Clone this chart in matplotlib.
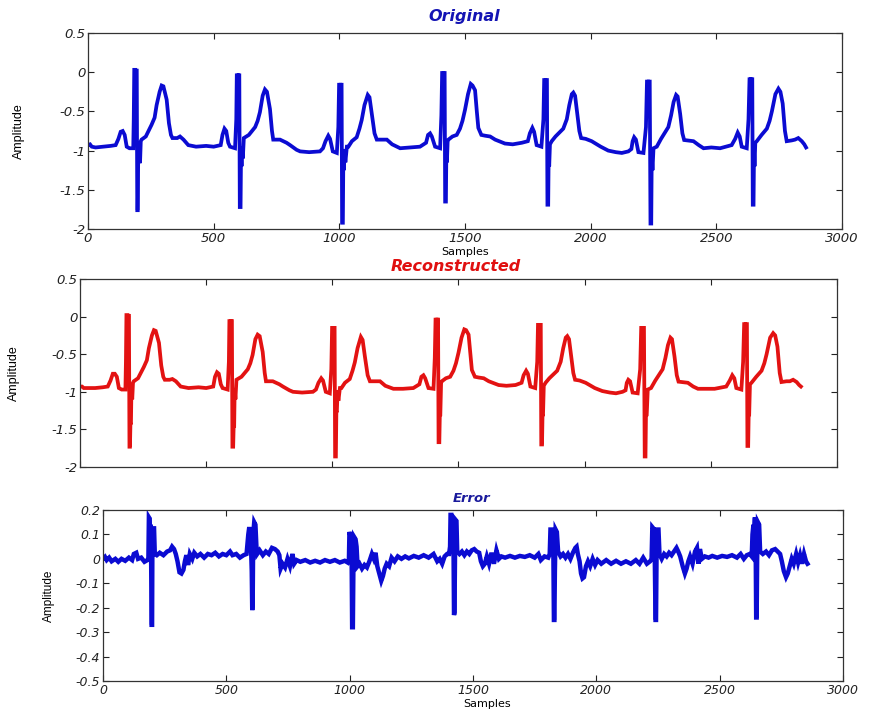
import matplotlib
matplotlib.use('Agg')
import matplotlib.pyplot as plt
import numpy as np

# ---- data (sample index, amplitude) ----
orig_pts = [
    (0, -0.93), (8, -0.92), (15, -0.95), (30, -0.96), (60, -0.95), (90, -0.94), (110, -0.93),
    (121, -0.85), (130, -0.76), (138, -0.75), (146, -0.80), (154, -0.95), (165, -0.97), (180, -0.97),
    (182, -0.60), (184, 0.03), (188, 0.03), (189, -0.55), (191, 0.02), (194, 0.02), (196, -1.76),
    (198, -1.76), (200, -1.0), (202, -1.16), (204, -0.92), (207, -1.16), (210, -0.88),
    (213, -0.86), (230, -0.82), (253, -0.67), (265, -0.58), (273, -0.42), (285, -0.25), (293, -0.17),
    (300, -0.18), (313, -0.35), (322, -0.65), (330, -0.80), (336, -0.84), (355, -0.84), (366, -0.82),
    (380, -0.86), (399, -0.93), (430, -0.95), (470, -0.94), (500, -0.95), (528, -0.93),
    (535, -0.80), (543, -0.72), (550, -0.75), (558, -0.90), (565, -0.95), (585, -0.97),
    (590, -0.60), (592, -0.04), (596, -0.04), (597, -0.5), (599, -0.04), (602, -0.04), (604, -1.72),
    (607, -1.72), (609, -1.0), (611, -1.2), (613, -0.95), (616, -1.1), (620, -0.84),
    (640, -0.80), (665, -0.70), (675, -0.62), (684, -0.51), (695, -0.30), (704, -0.22), (712, -0.25),
    (724, -0.47), (732, -0.75), (737, -0.86), (764, -0.86), (790, -0.90), (804, -0.93), (830, -0.99),
    (844, -1.01), (880, -1.02), (923, -1.01), (935, -0.97),
    (945, -0.88), (956, -0.81), (963, -0.85), (974, -1.01), (990, -1.03),
    (996, -0.70), (999, -0.16), (1003, -0.16), (1004, -0.6), (1006, -0.16), (1009, -0.16), (1011, -1.92),
    (1014, -1.92), (1016, -1.05), (1018, -1.25), (1021, -0.98), (1024, -1.15), (1030, -0.95),
    (1036, -0.95), (1050, -0.88), (1069, -0.83), (1080, -0.72), (1089, -0.61), (1100, -0.42),
    (1113, -0.29), (1120, -0.32), (1129, -0.53), (1140, -0.78), (1149, -0.86), (1170, -0.86),
    (1189, -0.86), (1210, -0.92), (1242, -0.97), (1280, -0.96), (1321, -0.95), (1345, -0.90),
    (1353, -0.80), (1361, -0.78), (1368, -0.82), (1381, -0.95), (1401, -0.97),
    (1406, -0.55), (1409, -0.01), (1413, -0.01), (1414, -0.45), (1416, -0.01), (1419, -0.01),
    (1421, -1.65), (1424, -1.65), (1426, -0.95), (1428, -1.15), (1431, -0.88), (1434, -0.86),
    (1450, -0.82), (1467, -0.80), (1480, -0.72), (1490, -0.62), (1500, -0.48), (1512, -0.28),
    (1523, -0.15), (1530, -0.17), (1540, -0.23), (1547, -0.50), (1553, -0.71), (1565, -0.80),
    (1580, -0.81), (1600, -0.82), (1620, -0.86), (1659, -0.91), (1690, -0.92), (1726, -0.90), (1750, -0.88),
    (1758, -0.78), (1768, -0.71), (1775, -0.76), (1785, -0.93), (1804, -0.95),
    (1812, -0.60), (1815, -0.10), (1819, -0.10), (1820, -0.5), (1822, -0.10), (1826, -0.10),
    (1828, -1.69), (1831, -1.69), (1833, -1.0), (1835, -1.2), (1838, -0.92), (1845, -0.88),
    (1860, -0.82), (1891, -0.72), (1905, -0.60), (1915, -0.42), (1925, -0.28), (1931, -0.26),
    (1938, -0.30), (1944, -0.46), (1955, -0.75), (1962, -0.84), (1980, -0.85), (2004, -0.88),
    (2040, -0.95), (2070, -1.0), (2100, -1.02), (2124, -1.03), (2150, -1.01), (2162, -0.98),
    (2167, -0.88), (2173, -0.83), (2180, -0.86), (2190, -1.02), (2210, -1.03),
    (2220, -0.70), (2224, -0.12), (2228, -0.12), (2229, -0.55), (2231, -0.12), (2235, -0.12),
    (2238, -1.93), (2241, -1.93), (2243, -1.05), (2246, -1.25), (2250, -0.97), (2263, -0.95),
    (2280, -0.85), (2309, -0.70), (2320, -0.55), (2330, -0.38), (2340, -0.29), (2346, -0.31),
    (2356, -0.53), (2365, -0.78), (2372, -0.865), (2409, -0.88), (2430, -0.93), (2449, -0.97),
    (2480, -0.96), (2515, -0.97), (2561, -0.93), (2575, -0.85),
    (2585, -0.77), (2593, -0.82), (2601, -0.95), (2621, -0.97),
    (2628, -0.60), (2632, -0.09), (2636, -0.09), (2637, -0.5), (2639, -0.09), (2643, -0.09),
    (2645, -1.69), (2648, -1.69), (2650, -1.0), (2652, -1.2), (2655, -0.9), (2661, -0.88),
    (2680, -0.80), (2701, -0.72), (2712, -0.62), (2721, -0.50), (2735, -0.28), (2747, -0.21),
    (2755, -0.25), (2764, -0.40), (2773, -0.75), (2780, -0.88), (2800, -0.87), (2813, -0.86),
    (2826, -0.84), (2840, -0.88), (2850, -0.92), (2857, -0.96),
]

recon_pts = [
    (0, -0.93), (8, -0.93), (15, -0.95), (30, -0.95), (60, -0.95), (90, -0.94), (110, -0.93),
    (121, -0.85), (130, -0.76), (138, -0.76), (146, -0.80), (154, -0.95), (165, -0.97), (180, -0.97),
    (182, -0.60), (184, 0.02), (188, 0.02), (189, -0.55), (191, 0.01), (194, 0.01), (196, -1.73),
    (198, -1.73), (200, -1.41), (202, -1.41), (204, -0.92), (207, -1.10), (210, -0.88),
    (213, -0.86), (230, -0.82), (253, -0.67), (265, -0.58), (273, -0.42), (285, -0.25), (293, -0.18),
    (300, -0.19), (313, -0.35), (322, -0.65), (330, -0.80), (336, -0.84), (355, -0.84), (366, -0.83),
    (380, -0.86), (399, -0.93), (430, -0.95), (470, -0.94), (500, -0.95), (528, -0.93),
    (535, -0.80), (543, -0.74), (550, -0.76), (558, -0.90), (565, -0.95), (585, -0.97),
    (590, -0.60), (592, -0.06), (596, -0.06), (597, -0.5), (599, -0.06), (602, -0.06), (604, -1.73),
    (607, -1.73), (609, -1.45), (611, -1.45), (613, -0.95), (616, -1.1), (620, -0.84),
    (640, -0.80), (665, -0.70), (675, -0.62), (684, -0.51), (695, -0.30), (704, -0.24), (712, -0.26),
    (724, -0.47), (732, -0.75), (737, -0.86), (764, -0.86), (790, -0.90), (804, -0.93), (830, -0.98),
    (844, -1.0), (880, -1.01), (923, -1.0), (935, -0.97),
    (945, -0.88), (956, -0.82), (963, -0.85), (974, -1.0), (990, -1.02),
    (996, -0.70), (999, -0.15), (1003, -0.15), (1004, -0.6), (1006, -0.15), (1009, -0.15), (1011, -1.86),
    (1014, -1.86), (1016, -1.25), (1018, -1.25), (1021, -0.98), (1024, -1.12), (1030, -0.95),
    (1036, -0.95), (1050, -0.88), (1069, -0.83), (1080, -0.72), (1089, -0.61), (1100, -0.42),
    (1113, -0.27), (1120, -0.31), (1129, -0.53), (1140, -0.78), (1149, -0.86), (1170, -0.86),
    (1189, -0.86), (1210, -0.92), (1242, -0.96), (1280, -0.96), (1321, -0.95), (1345, -0.90),
    (1353, -0.80), (1361, -0.78), (1368, -0.82), (1381, -0.95), (1401, -0.96),
    (1406, -0.55), (1409, -0.04), (1413, -0.04), (1414, -0.45), (1416, -0.04), (1419, -0.04),
    (1421, -1.67), (1424, -1.67), (1426, -1.3), (1428, -1.3), (1431, -0.88), (1434, -0.86),
    (1450, -0.82), (1467, -0.80), (1480, -0.72), (1490, -0.62), (1500, -0.48), (1512, -0.28),
    (1523, -0.17), (1530, -0.18), (1540, -0.24), (1547, -0.50), (1553, -0.71), (1565, -0.80),
    (1580, -0.81), (1600, -0.82), (1620, -0.86), (1659, -0.91), (1690, -0.92), (1726, -0.91), (1750, -0.88),
    (1758, -0.78), (1768, -0.72), (1775, -0.76), (1785, -0.93), (1804, -0.95),
    (1812, -0.60), (1815, -0.11), (1819, -0.11), (1820, -0.5), (1822, -0.11), (1826, -0.11),
    (1828, -1.70), (1831, -1.70), (1833, -1.3), (1835, -1.3), (1838, -0.92), (1845, -0.88),
    (1860, -0.82), (1891, -0.72), (1905, -0.60), (1915, -0.42), (1925, -0.28), (1931, -0.26),
    (1938, -0.30), (1944, -0.46), (1955, -0.75), (1962, -0.84), (1980, -0.85), (2004, -0.88),
    (2040, -0.95), (2070, -0.99), (2100, -1.01), (2124, -1.02), (2150, -1.0), (2162, -0.98),
    (2167, -0.88), (2173, -0.84), (2180, -0.86), (2190, -1.01), (2210, -1.02),
    (2220, -0.70), (2224, -0.15), (2228, -0.15), (2229, -0.55), (2231, -0.15), (2235, -0.15),
    (2238, -1.86), (2241, -1.86), (2243, -1.3), (2246, -1.3), (2250, -0.97), (2263, -0.95),
    (2280, -0.85), (2309, -0.70), (2320, -0.55), (2330, -0.38), (2340, -0.28), (2346, -0.30),
    (2356, -0.53), (2365, -0.78), (2372, -0.865), (2409, -0.88), (2430, -0.93), (2449, -0.96),
    (2480, -0.96), (2515, -0.96), (2561, -0.93), (2575, -0.85),
    (2585, -0.78), (2593, -0.82), (2601, -0.95), (2621, -0.97),
    (2628, -0.60), (2632, -0.10), (2636, -0.10), (2637, -0.5), (2639, -0.10), (2643, -0.10),
    (2645, -1.72), (2648, -1.72), (2650, -1.3), (2652, -1.3), (2655, -0.9), (2661, -0.88),
    (2680, -0.80), (2701, -0.72), (2712, -0.62), (2721, -0.50), (2735, -0.28), (2747, -0.22),
    (2755, -0.25), (2764, -0.40), (2773, -0.75), (2780, -0.87), (2800, -0.86), (2813, -0.86),
    (2826, -0.84), (2840, -0.87), (2850, -0.91), (2857, -0.93),
]

error_pts = [
    (0, 0.0), (8, 0.008), (15, -0.005), (25, 0.005), (35, -0.01), (50, 0.0), (62, -0.012), (75, 0.0),
    (90, -0.008), (105, 0.005), (118, -0.005), (125, 0.02), (135, 0.025), (142, 0.0), (155, 0.005),
    (168, -0.012), (180, -0.005),
    (184, 0.0), (186, 0.17), (189, 0.165), (191, 0.09), (193, 0.14), (195, 0.02), (197, -0.27),
    (199, -0.27), (200, 0.0), (202, 0.125), (207, 0.125), (210, 0.02),
    (218, 0.015), (230, 0.025), (245, 0.015), (260, 0.03), (272, 0.035), (280, 0.05), (288, 0.04),
    (295, 0.02), (302, -0.01), (310, -0.055), (318, -0.06), (326, -0.045), (332, -0.01), (338, 0.015),
    (345, -0.025), (352, 0.02), (362, 0.0), (370, 0.025), (382, 0.01), (395, 0.02), (410, 0.005),
    (425, 0.02), (440, 0.015), (455, 0.025), (470, 0.01), (485, 0.02), (500, 0.015), (515, 0.03),
    (525, 0.015), (540, 0.02), (555, 0.005), (570, 0.015), (582, 0.02),
    (589, 0.10), (593, 0.13), (597, 0.10), (600, 0.05), (603, -0.05), (605, -0.21), (607, -0.16),
    (609, 0.10), (613, 0.15), (618, 0.14), (622, 0.05), (625, 0.02),
    (635, 0.035), (648, 0.015), (660, 0.03), (672, 0.02), (685, 0.045), (697, 0.04), (708, 0.03),
    (715, 0.015), (720, -0.04), (728, -0.02), (738, -0.035), (748, 0.0), (758, -0.03), (768, 0.02),
    (775, -0.02), (785, -0.005), (800, -0.012), (820, -0.005), (840, -0.015), (860, -0.008),
    (880, -0.015), (900, -0.005), (920, -0.012), (940, -0.005), (960, -0.015), (980, -0.008), (992, -0.015),
    (997, 0.0), (999, 0.11), (1002, 0.10), (1005, 0.04), (1008, 0.0), (1010, -0.28), (1013, -0.28),
    (1015, -0.05), (1018, 0.09), (1024, 0.08), (1028, 0.05), (1032, -0.03),
    (1040, -0.02), (1050, -0.04), (1060, -0.025), (1070, -0.035), (1080, -0.01), (1090, 0.02),
    (1098, 0.0), (1105, 0.025), (1112, -0.03), (1120, -0.06), (1128, -0.09), (1135, -0.07),
    (1142, -0.04), (1150, -0.02), (1160, -0.03), (1170, 0.005), (1182, -0.01), (1195, 0.01),
    (1210, 0.0), (1225, 0.01), (1240, 0.002), (1260, 0.012), (1280, 0.005), (1300, 0.015),
    (1320, 0.005), (1340, 0.02), (1355, -0.01), (1365, 0.0), (1375, -0.02), (1385, 0.01),
    (1395, 0.02), (1403, 0.02),
    (1407, 0.05), (1409, 0.18), (1412, 0.18), (1415, 0.10), (1418, 0.16), (1421, 0.05), (1423, -0.23),
    (1425, -0.22), (1427, 0.0), (1429, 0.16), (1433, 0.155), (1436, 0.03),
    (1445, 0.02), (1455, 0.03), (1465, 0.015), (1475, 0.03), (1485, 0.02), (1495, 0.035), (1505, 0.04),
    (1515, 0.03), (1525, 0.025), (1532, -0.01), (1540, -0.03), (1548, -0.02), (1556, 0.01),
    (1565, -0.02), (1575, 0.025), (1585, -0.02), (1595, 0.035), (1605, 0.0), (1615, 0.01),
    (1630, 0.005), (1650, 0.012), (1670, 0.005), (1690, 0.012), (1710, 0.008), (1730, 0.015),
    (1750, 0.005), (1765, 0.02), (1775, -0.005), (1790, 0.01), (1805, 0.005), (1811, 0.02),
    (1814, 0.12), (1818, 0.12), (1821, 0.08), (1824, 0.12), (1826, 0.0), (1828, -0.25), (1830, -0.25),
    (1832, -0.05), (1835, 0.12), (1840, 0.11), (1845, 0.03),
    (1855, 0.01), (1865, 0.02), (1875, 0.005), (1885, 0.02), (1895, 0.0), (1905, 0.025), (1915, 0.045),
    (1920, 0.05), (1925, 0.02), (1932, -0.01), (1938, -0.06), (1944, -0.08), (1950, -0.075),
    (1958, -0.03), (1966, -0.01), (1975, -0.03), (1985, 0.0), (1995, -0.025), (2005, -0.005),
    (2020, -0.02), (2040, -0.005), (2060, -0.02), (2080, -0.008), (2100, -0.02), (2120, -0.01),
    (2140, -0.02), (2160, -0.005), (2175, -0.02), (2190, 0.005), (2205, -0.02), (2218, -0.01),
    (2224, 0.0), (2227, 0.13), (2231, 0.125), (2234, 0.06), (2237, 0.0), (2240, -0.25), (2242, -0.25),
    (2244, 0.0), (2247, 0.12), (2252, 0.12), (2256, 0.02),
    (2265, 0.0), (2275, 0.02), (2285, 0.01), (2295, 0.025), (2305, 0.015), (2315, 0.03), (2325, 0.045),
    (2332, 0.03), (2340, 0.01), (2350, -0.03), (2359, -0.06), (2366, -0.04), (2373, -0.01),
    (2380, 0.01), (2390, -0.02), (2400, 0.03), (2408, 0.045), (2414, -0.02), (2420, 0.04), (2428, 0.0),
    (2440, 0.01), (2455, 0.005), (2470, 0.012), (2490, 0.005), (2510, 0.012), (2530, 0.008),
    (2550, 0.015), (2570, 0.005), (2585, 0.02), (2598, 0.0), (2610, 0.015), (2622, 0.02), (2630, 0.01),
    (2633, 0.10), (2637, 0.14), (2640, 0.12), (2643, 0.17), (2646, 0.05), (2648, -0.24), (2650, -0.24),
    (2652, 0.0), (2655, 0.15), (2660, 0.14), (2664, 0.03),
    (2675, 0.02), (2688, 0.03), (2700, 0.015), (2712, 0.035), (2725, 0.04), (2735, 0.03), (2745, 0.02),
    (2752, -0.01), (2760, -0.05), (2769, -0.075), (2776, -0.06), (2784, -0.03), (2792, 0.0),
    (2800, -0.02), (2810, 0.02), (2818, -0.015), (2826, 0.015), (2834, -0.02), (2842, 0.02),
    (2850, -0.01), (2856, -0.02),
]

x_ticks = [0, 500, 1000, 1500, 2000, 2500, 3000]
ecg_yticks = [0.5, 0, -0.5, -1, -1.5, -2]
ecg_ylabels = ['0.5', '0', '-0.5', '-1', '-1.5', '-2']
err_yticks = [0.2, 0.1, 0, -0.1, -0.2, -0.3, -0.4, -0.5]
err_ylabels = ['0.2', '0.1', '0', '-0.1', '-0.2', '-0.3', '-0.4', '-0.5']

orig = np.array(orig_pts)
recon = np.array(recon_pts)
err = np.array(error_pts)

plt.rcParams['font.family'] = ['DejaVu Sans']
narrow = ['Liberation Sans Narrow', 'Liberation Sans', 'DejaVu Sans']

fig = plt.figure(figsize=(8.69, 7.10), dpi=100)
fig.patch.set_facecolor('white')

ax1 = fig.add_axes([88/869, 1-229/710, 754/869, 196/710])
ax2 = fig.add_axes([80/869, 1-467/710, 757/869, 188/710])
ax3 = fig.add_axes([103/869, 1-681/710, 740/869, 171/710])

blue = '#0b0bd2'
red = '#e31212'

ax1.plot(orig[:, 0], orig[:, 1], color=blue, lw=2.7, solid_joinstyle='miter')
ax2.plot(recon[:, 0], recon[:, 1], color=red, lw=2.7, solid_joinstyle='miter')
ax3.plot(err[:, 0], err[:, 1], color=blue, lw=3.2, solid_joinstyle='miter')

for ax in (ax1, ax2, ax3):
    ax.set_xlim(0, 3000)
    ax.set_xticks(x_ticks)
    ax.tick_params(direction='in', top=True, right=True, length=4, width=0.8,
                   labelsize=9.5, colors='#222222', pad=2)
    for sp in ax.spines.values():
        sp.set_color('#333333')
        sp.set_linewidth(0.9)

for ax in (ax1, ax2):
    ax.set_ylim(-2, 0.5)
    ax.set_yticks(ecg_yticks)
    ax.set_yticklabels(ecg_ylabels, fontstyle='oblique')
ax1.set_xticklabels([str(t) for t in x_ticks], fontstyle='oblique')
ax2.set_xticklabels([])

ax3.set_ylim(-0.5, 0.2)
ax3.set_yticks(err_yticks)
ax3.set_yticklabels(err_ylabels, fontstyle='oblique', fontsize=9)
ax3.set_xticklabels([str(t) for t in x_ticks], fontstyle='oblique', fontsize=9)

# labels
ax1.set_ylabel('Amplitude', family=narrow, fontsize=9)
ax1.yaxis.set_label_coords(-0.083, 0.5)
ax2.set_ylabel('Amplitude', family=narrow, fontsize=9)
ax2.yaxis.set_label_coords(-0.079, 0.5)
ax3.set_ylabel('Amplitude', family=narrow, fontsize=8.5)
ax3.yaxis.set_label_coords(-0.065, 0.5)

ax1.text(0.5, -0.115, 'Samples', transform=ax1.transAxes, ha='center', va='center', fontsize=8)
ax3.text(0.519, -0.135, 'Samples', transform=ax3.transAxes, ha='center', va='center', fontsize=8)

# titles
fig.text(464/869, 1-17/710, 'Original', ha='center', va='center', fontsize=11.5,
         fontweight='bold', fontstyle='oblique', color='#1414b4')
fig.text(456/869, 1-267/710, 'Reconstructed', ha='center', va='center', fontsize=11.5,
         fontweight='bold', fontstyle='oblique', color='#e01010')
fig.text(472/869, 1-498/710, 'Error', ha='center', va='center', fontsize=9.5,
         fontweight='bold', fontstyle='oblique', color='#1a1a9c')

fig.savefig('out.png', dpi=100, facecolor='white')
